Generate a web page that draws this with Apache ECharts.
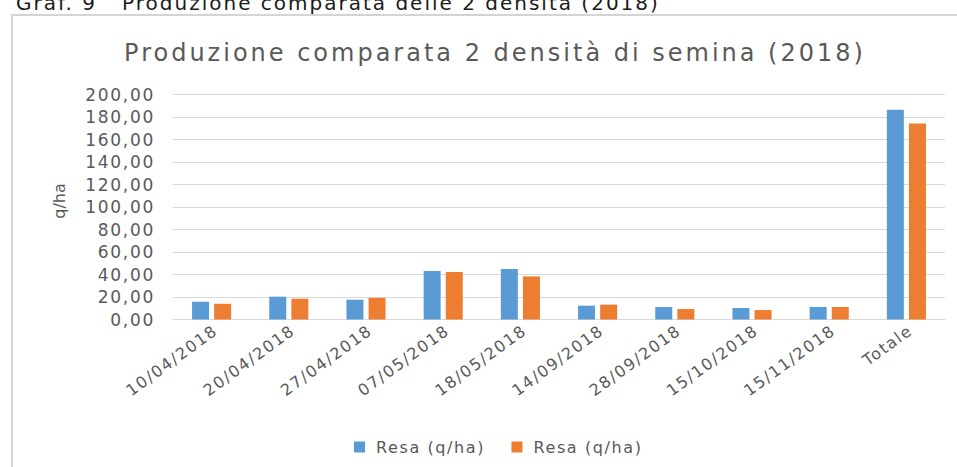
<!DOCTYPE html>
<html>
<head>
<meta charset="utf-8">
<script src="https://cdn.jsdelivr.net/npm/echarts@6/dist/echarts.min.js"></script>
<style>
  html, body { margin: 0; padding: 0; background: #ffffff; }
  #chart { width: 957px; height: 467px; }
  /* wide lettering for the chart labels */
  #chart text { letter-spacing: 0.1em; white-space: pre; }
</style>
</head>
<body>
<div id="chart"></div>
<script>
// Harvest dates and the season total
const categories = ['10/04/2018', '20/04/2018', '27/04/2018', '07/05/2018', '18/05/2018',
                    '14/09/2018', '28/09/2018', '15/10/2018', '15/11/2018', 'Totale'];

// Yield (q/ha) for the two sowing densities
const resaDensita1 = [15.8, 20.3, 17.6, 43.1, 44.9, 12.3, 11.1, 10.2, 11.1, 186.4];
const resaDensita2 = [14.0, 18.5, 19.2, 42.2, 38.3, 13.2, 9.3, 8.4, 11.1, 174.2];

const seriesNames = ['Resa (q/ha) - densità 1', 'Resa (q/ha) - densità 2'];
const legendLabel = 'Resa (q/ha)';

const caption = 'Graf. 9   Produzione comparata delle 2 densità (2018)';
const chartTitle = 'Produzione comparata 2 densità di semina (2018)';
const yAxisName = 'q/ha';

const FONT = '"DejaVu Sans", Verdana, sans-serif';
const GREY = '#595959';

const chart = echarts.init(document.getElementById('chart'), null, { renderer: 'svg' });

chart.setOption({
  backgroundColor: '#ffffff',
  animation: false,
  color: ['#5B9BD5', '#ED7D31'],
  graphic: [
    {
      type: 'rect',
      shape: { x: 12, y: 15, width: 1000, height: 500 },
      style: { fill: 'none', stroke: '#d4d4d4', lineWidth: 2 },
      silent: true
    },
    {
      type: 'text',
      x: 16, y: 3.1,
      style: { text: caption, font: '20px ' + FONT, fill: '#1a1a1a', textAlign: 'left', textVerticalAlign: 'middle' },
      silent: true
    },
    {
      type: 'text',
      x: 495, y: 53,
      style: { text: chartTitle, font: '24px ' + FONT, fill: GREY, textAlign: 'center', textVerticalAlign: 'middle' },
      silent: true
    },
    {
      type: 'text',
      x: 59, y: 201,
      rotation: Math.PI / 2,
      style: { text: yAxisName, font: '16px ' + FONT, fill: GREY, textAlign: 'center', textVerticalAlign: 'middle' },
      silent: true
    }
  ],
  legend: {
    left: 349,
    top: 434,
    itemWidth: 11,
    itemHeight: 11,
    itemGap: 44,
    icon: 'rect',
    data: seriesNames,
    formatter: () => legendLabel,
    textStyle: { fontFamily: FONT, fontSize: 16, color: GREY, padding: [0, 0, 0, 6] }
  },
  grid: { left: 173, right: 12, top: 94.5, bottom: 147.5 },
  xAxis: {
    type: 'category',
    data: categories,
    axisLine: { show: true, lineStyle: { color: '#d9d9d9', width: 1 } },
    axisTick: { show: false },
    axisLabel: {
      interval: 0,
      rotate: 36,
      margin: 12,
      padding: [0, -5, 0, 0],
      fontFamily: FONT,
      fontSize: 16,
      color: GREY
    }
  },
  yAxis: {
    type: 'value',
    min: 0,
    max: 200,
    interval: 20,
    axisLine: { show: false },
    axisTick: { show: false },
    splitLine: { lineStyle: { color: '#d9d9d9', width: 1 } },
    axisLabel: {
      margin: 18,
      fontFamily: FONT,
      fontSize: 17,
      color: GREY,
      formatter: v => v.toFixed(2).replace('.', ',')
    }
  },
  series: [
    { name: seriesNames[0], type: 'bar', data: resaDensita1, barWidth: 17, barGap: '30%' },
    { name: seriesNames[1], type: 'bar', data: resaDensita2, barWidth: 17, barGap: '30%' }
  ]
});

// per-text spacing: natural for the vertical axis name, a little wider for the title
function adjustSpacing() {
  document.querySelectorAll('#chart text').forEach(t => {
    if (t.textContent === yAxisName) t.style.letterSpacing = '0';
    if (t.textContent === chartTitle) t.style.letterSpacing = '0.125em';
  });
}
chart.on('finished', adjustSpacing);
setTimeout(adjustSpacing, 50);
</script>
</body>
</html>
